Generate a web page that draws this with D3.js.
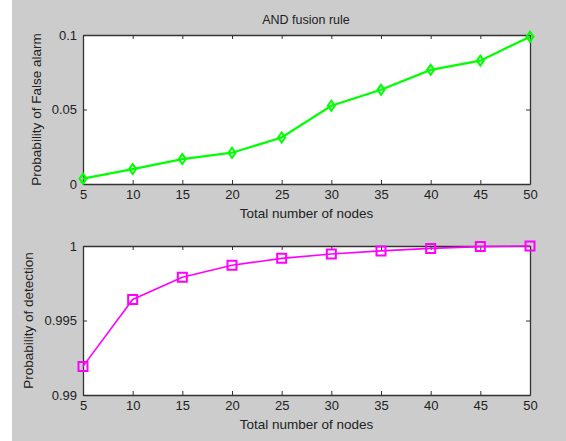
<!DOCTYPE html>
<html>
    <head>
        <meta charset="utf-8">
        <script src="https://d3js.org/d3.v7.min.js"></script>
        <style>
        body { margin: 0; background: #fff; }
        text { font-family: "Liberation Sans", Arial, sans-serif; fill: #222; }
        </style>
    </head>
    <body>
        <div id="chartContainer"></div>
        <script type="text/javascript">
            // data
            var nodes = [5, 10, 15, 20, 25, 30, 35, 40, 45, 50];
            var falseAlarm = [0.0036, 0.01, 0.0167, 0.021, 0.0312, 0.0525, 0.0632, 0.0766, 0.0828, 0.0989];
            var detection = [0.99192, 0.99641, 0.9979, 0.99871, 0.99917, 0.99946, 0.99967, 0.99984, 0.99996, 1.0];
            var faTicks = [0, 0.05, 0.1];
            var pdTicks = [0.99, 0.995, 1];

            var width = 566,
                height = 441;

            var svg = d3.select("#chartContainer")
                        .append("svg")
                        .attr("width", width)
                        .attr("height", height);

            // grey figure background
            svg.append("rect")
               .attr("x", 12).attr("y", 0)
               .attr("width", width - 12).attr("height", height)
               .attr("fill", "#cccccc");

            function drawPanel(top, ys, domain, ticks, fmt, color, marker, lw, ylabel, labelX) {
                var left = 83, right = 530, bottom = top + 149;
                var x = d3.scaleLinear().domain([5, 50]).range([left, right]);
                var y = d3.scaleLinear().domain(domain).range([bottom, top]);
                var g = svg.append("g");

                g.append("rect")
                 .attr("x", left).attr("y", top)
                 .attr("width", right - left).attr("height", bottom - top)
                 .attr("fill", "#fff");

                // axes with inward ticks, MATLAB box style
                g.append("g").attr("transform", "translate(0," + bottom + ")")
                 .call(d3.axisBottom(x).tickValues(nodes).tickSizeInner(-4).tickSizeOuter(0).tickPadding(6));
                g.append("g").attr("transform", "translate(0," + top + ")")
                 .call(d3.axisTop(x).tickValues(nodes).tickSizeInner(-4).tickSizeOuter(0).tickFormat(""));
                g.append("g").attr("transform", "translate(" + left + ",0)")
                 .call(d3.axisLeft(y).tickValues(ticks).tickSizeInner(-4).tickSizeOuter(0).tickPadding(6).tickFormat(fmt));
                g.append("g").attr("transform", "translate(" + right + ",0)")
                 .call(d3.axisRight(y).tickValues(ticks).tickSizeInner(-4).tickSizeOuter(0).tickFormat(""));

                g.selectAll(".domain").attr("stroke", "#333").attr("stroke-width", 1.3);
                g.selectAll(".tick line").attr("stroke", "#333");
                g.selectAll(".tick text").style("font-size", "13px").attr("fill", "#222");

                var line = d3.line()
                    .x(function(d, i) { return x(nodes[i]); })
                    .y(function(d) { return y(d); });

                g.append("path")
                 .datum(ys)
                 .attr("d", line)
                 .attr("fill", "none")
                 .attr("stroke", color)
                 .attr("stroke-width", lw);

                g.selectAll(".mk")
                 .data(ys)
                 .enter()
                 .append("path")
                 .attr("transform", function(d, i) { return "translate(" + x(nodes[i]) + "," + y(d) + ")"; })
                 .attr("d", marker)
                 .attr("fill", "none")
                 .attr("stroke", color)
                 .attr("stroke-width", 2);

                svg.append("text")
                   .attr("x", (left + right) / 2)
                   .attr("y", bottom + 34)
                   .style("text-anchor", "middle")
                   .style("font-size", "13.5px")
                   .text("Total number of nodes");

                svg.append("text")
                   .attr("transform", "translate(" + labelX + "," + (top + bottom) / 2 + ") rotate(-90)")
                   .style("text-anchor", "middle")
                   .style("font-size", "13.5px")
                   .text(ylabel);
            }

            var diamond = "M0,-5L3.5,0L0,5L-3.5,0Z";
            var square = "M-4.5,-4.5H4.5V4.5H-4.5Z";

            drawPanel(35, falseAlarm, [0, 0.1], faTicks,
                      function(d) { return d === 0 ? "0" : String(d); },
                      "#00ff00", diamond, 2.2, "Probability of False alarm", 41);
            drawPanel(246, detection, [0.99, 1], pdTicks,
                      function(d) { return String(d); },
                      "#ff00ff", square, 1.6, "Probability of detection", 33);

            // title
            svg.append("text")
               .attr("x", 306)
               .attr("y", 24)
               .style("text-anchor", "middle")
               .style("font-size", "12.5px")
               .text("AND fusion rule");
        </script>
    </body>
</html>
